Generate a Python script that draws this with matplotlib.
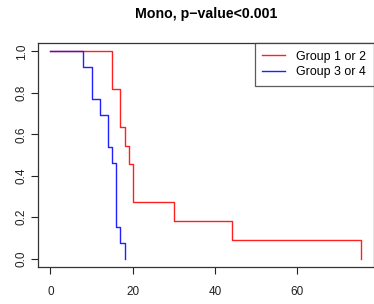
import matplotlib
matplotlib.use("Agg")
import matplotlib.pyplot as plt

plt.rcParams['font.family'] = ['Liberation Sans', 'DejaVu Sans']

# Kaplan-Meier steps
time_12 = [0, 15, 17, 18, 19, 20, 30, 44, 75.5]
surv_12 = [1.0, 0.818, 0.636, 0.545, 0.455, 0.273, 0.182, 0.091, 0.0]

time_34 = [0, 8, 10, 12, 14, 15, 16, 17, 18]
surv_34 = [1.0, 0.923, 0.769, 0.692, 0.538, 0.462, 0.154, 0.077, 0.0]

xticks = [0, 20, 40, 60]
yticks = [0.0, 0.2, 0.4, 0.6, 0.8, 1.0]

fig = plt.figure(figsize=(3.74, 3.04), dpi=100)
ax = fig.add_axes([38 / 374, 37 / 304, 336 / 374, 224 / 304])

ax.step(time_12, surv_12, where='post', color='#ff2020', lw=1.0, label='Group 1 or 2')
ax.step(time_34, surv_34, where='post', color='#2020ff', lw=1.0, label='Group 3 or 4')

ax.set_xlim(-3.02, 78.6)
ax.set_ylim(-0.04, 1.04)
ax.set_xticks(xticks)
ax.set_yticks(yticks)
ax.set_xticklabels([str(t) for t in xticks])
ax.set_yticklabels(['%.1f' % t for t in yticks], rotation=90, va='center')
ax.tick_params(axis='x', length=5, width=0.8, pad=8.5, labelsize=8.5, colors='#222222')
ax.tick_params(axis='y', length=5, width=0.8, pad=2.5, labelsize=8.5, colors='#222222')
for s in ax.spines.values():
    s.set_linewidth(0.9)
    s.set_color('#333333')

ax.set_title('Mono, p\u2212value<0.001', fontsize=10.2, fontweight='bold', pad=18)

leg = ax.legend(loc='upper right', fontsize=8.9, frameon=True, fancybox=False,
                borderaxespad=0, handlelength=1.85, handletextpad=0.9,
                borderpad=0.62, labelspacing=0.3)
leg.get_frame().set_edgecolor('#333333')
leg.get_frame().set_linewidth(0.9)

fig.savefig('out.png', dpi=100)
